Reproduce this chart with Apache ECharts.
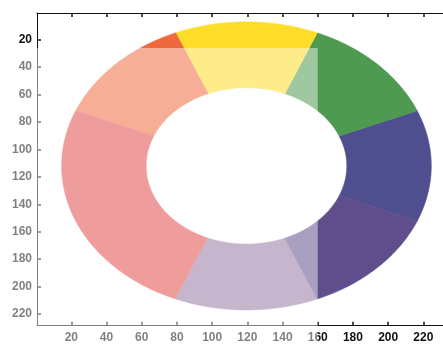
<!DOCTYPE html>
<html>
<head>
<meta charset="utf-8">
<script src="https://cdn.jsdelivr.net/npm/echarts@6/dist/echarts.min.js"></script>
<style>
  html, body { margin: 0; padding: 0; background: #fff; }
  #chart { width: 443px; height: 356px; }
</style>
</head>
<body>
<div id="chart"></div>
<script>
// Tick labels along both image axes
const xTicks = [20, 40, 60, 80, 100, 120, 140, 160, 180, 200, 220];
const yTicks = [20, 40, 60, 80, 100, 120, 140, 160, 180, 200, 220];

// Image extent (pixel-centre convention: first pixel spans 0.5..1.5)
const xRange = [0.5, 236.5];
const yRange = [0.5, 228.5];

// Colour wheel ring: centre and radii in image pixels
const ringCenter = [119.5, 112];
const ringRadii = [57, 105];

// Segment boundaries in degrees (counter-clockwise from +x) and their colours
const segStart = [-22.5, 22.5, 67.5, 112.5, 157.5, 247.5, 292.5];
const segEnd   = [22.5, 67.5, 112.5, 157.5, 247.5, 292.5, 337.5];
const segColor = ['#4f4f8f', '#4e9a50', '#fedd2a', '#ee6a3e', '#e24a48', '#9479a3', '#604e8c'];

// Lightened region of the image (from x = 160 leftwards, from y = 26 downwards)
const fadeCorner = [160, 26];

const chart = echarts.init(document.getElementById('chart'), null, { renderer: 'canvas' });

const labelFont = {
  fontFamily: '"Liberation Sans Narrow", "Liberation Sans", Arial, sans-serif',
  fontSize: 12,
  fontWeight: 'bold',
  color: '#111'
};

function axisCommon(ticks) {
  return {
    type: 'value',
    axisLine: { show: true, onZero: false, lineStyle: { color: '#111', width: 1 } },
    axisTick: { show: true, inside: true, length: 4, customValues: ticks, lineStyle: { color: '#111', width: 1.5 } },
    splitLine: { show: false }
  };
}

const segData = segStart.map((s, i) => ({ value: [s, segEnd[i]], itemStyle: { color: segColor[i] } }));

chart.setOption({
  animation: false,
  backgroundColor: '#fff',
  grid: { left: 37, top: 13, width: 415.4, height: 312.7, containLabel: false, outerBoundsMode: 'none' },
  xAxis: [
    Object.assign(axisCommon(xTicks), {
      position: 'bottom', min: xRange[0], max: xRange[1],
      axisLabel: Object.assign({ customValues: xTicks, margin: 6 }, labelFont)
    }),
    Object.assign(axisCommon(xTicks), {
      position: 'top', min: xRange[0], max: xRange[1],
      axisLabel: { show: false }
    })
  ],
  yAxis: [
    Object.assign(axisCommon(yTicks), {
      position: 'left', inverse: true, min: yRange[0], max: yRange[1],
      axisLabel: Object.assign({ customValues: yTicks, margin: 5 }, labelFont)
    }),
    Object.assign(axisCommon(yTicks), {
      position: 'right', inverse: true, min: yRange[0], max: yRange[1],
      axisLabel: { show: false }
    })
  ],
  series: [{
    type: 'custom',
    coordinateSystem: 'cartesian2d',
    xAxisIndex: 0,
    yAxisIndex: 0,
    clip: true,
    encode: { x: [], y: [] },
    data: segData,
    renderItem: function (params, api) {
      const a0 = api.value(0) * Math.PI / 180;
      const a1 = api.value(1) * Math.PI / 180;
      const n = 64;
      const pts = [];
      const cx = ringCenter[0], cy = ringCenter[1];
      for (let i = 0; i <= n; i++) {
        const a = a0 + (a1 - a0) * i / n;
        pts.push(api.coord([cx + ringRadii[1] * Math.cos(a), cy - ringRadii[1] * Math.sin(a)]));
      }
      for (let i = n; i >= 0; i--) {
        const a = a0 + (a1 - a0) * i / n;
        pts.push(api.coord([cx + ringRadii[0] * Math.cos(a), cy - ringRadii[0] * Math.sin(a)]));
      }
      return {
        type: 'polygon',
        shape: { points: pts },
        style: { fill: api.visual('color'), stroke: api.visual('color'), lineWidth: 0.6 }
      };
    }
  }]
});

// Translucent white wash over the lower-left part of the figure
const corner = chart.convertToPixel({ xAxisIndex: 0, yAxisIndex: 0 }, fadeCorner);
chart.setOption({
  graphic: [{
    type: 'rect',
    silent: true,
    z: 1000,
    shape: { x: 0, y: corner[1], width: corner[0], height: 356 - corner[1] },
    style: { fill: 'rgba(255,255,255,0.46)' }
  }]
});
</script>
</body>
</html>
